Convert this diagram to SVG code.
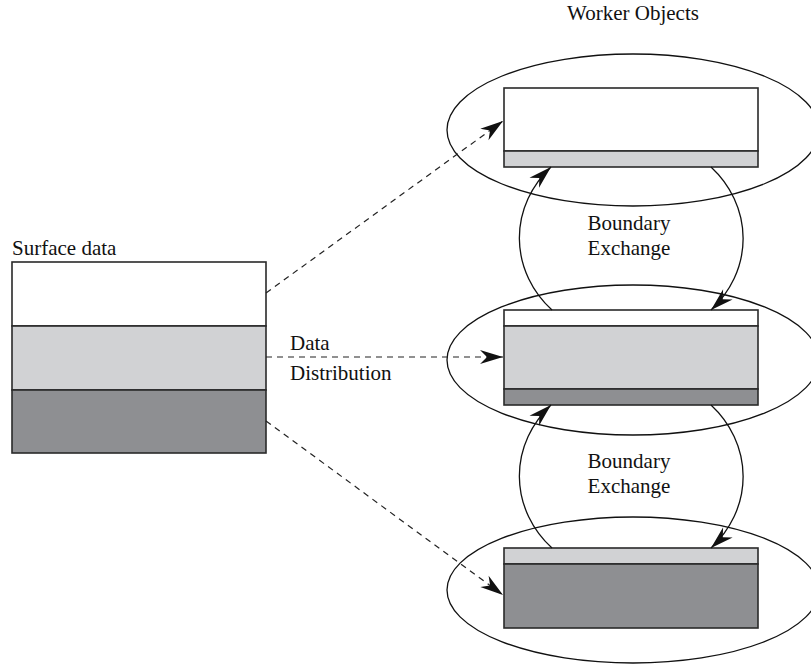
<svg xmlns="http://www.w3.org/2000/svg" width="811" height="665" viewBox="0 0 811 665">
<style>
text{font-family:"Liberation Serif","Times New Roman",serif;font-size:21px;fill:#111}
.ell{fill:none;stroke:#111;stroke-width:1.3}
.box{stroke:#2a2a2a;stroke-width:1.6}
.w{fill:#fff}.l{fill:#d1d2d4}.d{fill:#8e8f92}
.dash{fill:none;stroke:#222;stroke-width:1.2;stroke-dasharray:6,5}
.arc{fill:none;stroke:#111;stroke-width:1.3}
</style>
<defs>
<marker id="ah" markerUnits="userSpaceOnUse" markerWidth="26" markerHeight="18" viewBox="-24 -9 26 18" refX="0" refY="0" orient="auto">
<path d="M0,0 L-23,-7 L-16,0 L-23,7 Z" fill="#111"/>
</marker>
</defs>
<rect width="811" height="665" fill="#fff"/>
<text x="633" y="20" text-anchor="middle">Worker Objects</text>
<g id="surface">
<text x="12" y="255">Surface data</text>
<rect class="box w" x="12" y="262" width="254" height="64"/>
<rect class="box l" x="12" y="326" width="254" height="64"/>
<rect class="box d" x="12" y="390" width="254" height="63"/>
</g>
<g id="worker1">
<ellipse class="ell" cx="633" cy="130" rx="186" ry="76"/>
<rect class="box w" x="504" y="88" width="254" height="63"/>
<rect class="box l" x="504" y="151" width="254" height="16"/>
</g>
<g id="worker2">
<ellipse class="ell" cx="633" cy="360" rx="186" ry="75"/>
<rect class="box w" x="504" y="310" width="254" height="16"/>
<rect class="box l" x="504" y="326" width="254" height="63"/>
<rect class="box d" x="504" y="389" width="254" height="16"/>
</g>
<g id="worker3">
<ellipse class="ell" cx="633" cy="590" rx="186" ry="73"/>
<rect class="box l" x="504" y="548" width="254" height="16"/>
<rect class="box d" x="504" y="564" width="254" height="64"/>
</g>
<g id="connectors">
<path class="dash" d="M266,293 L503,121" marker-end="url(#ah)"/>
<path class="dash" d="M266,357 L503,357" marker-end="url(#ah)"/>
<path class="dash" d="M266,421 L503,595" marker-end="url(#ah)"/>
<path class="arc" d="M552,310 A112,102 0 0,1 551,167" marker-end="url(#ah)"/>
<path class="arc" d="M711,167 A112,102 0 0,1 711,310" marker-end="url(#ah)"/>
<path class="arc" d="M552,548 A112,102 0 0,1 551,405" marker-end="url(#ah)"/>
<path class="arc" d="M711,405 A112,102 0 0,1 711,548" marker-end="url(#ah)"/>
</g>
<g id="labels">
<text x="290" y="350">Data</text>
<text x="290" y="380">Distribution</text>
<text x="629" y="230" text-anchor="middle">Boundary</text>
<text x="629" y="255" text-anchor="middle">Exchange</text>
<text x="629" y="468" text-anchor="middle">Boundary</text>
<text x="629" y="493" text-anchor="middle">Exchange</text>
</g>
</svg>
